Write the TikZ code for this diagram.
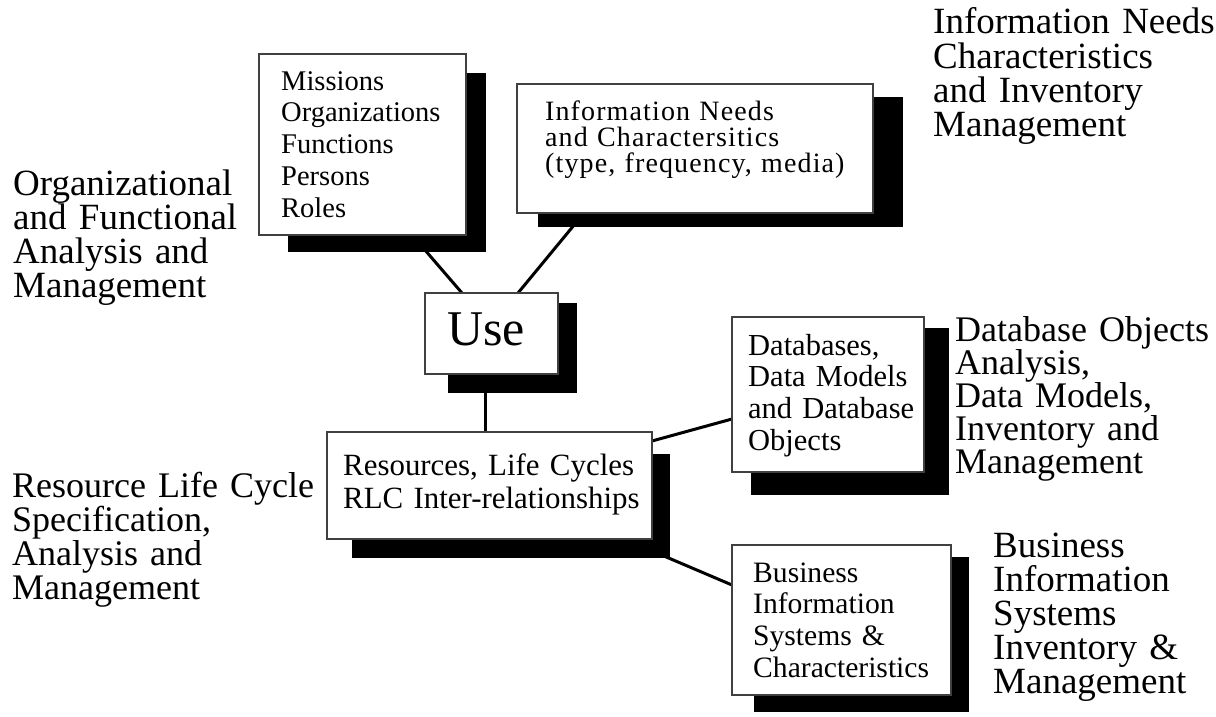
\documentclass[tikz,border=0pt]{standalone}
\usepackage{fontspec}
\setmainfont{Liberation Serif}
\pgfdeclarelayer{back}
\pgfsetlayers{back,main}

\begin{document}
\begin{tikzpicture}[x=1pt,y=-1pt,
    box/.style={draw=black!75,line width=1.2pt,fill=white,anchor=north west,inner sep=0pt,outer sep=0pt},
    txt/.style={anchor=base west,inner sep=0pt,text width=420pt,align=left},
    lbl/.style={txt,font=\fontsize{37}{34.2}\selectfont},
    link/.style={line width=3pt},
    shade/.style={fill=black}]
\useasboundingbox (0,0) rectangle (1216,717);

\node[box,minimum width=207pt,minimum height=181pt] (miss) at (259,54) {};
\node[txt,font=\fontsize{28.5}{31.8}\selectfont] (misst) at (281,90) {Missions\\Organizations\\Functions\\Persons\\Roles};

\node[box,minimum width=356pt,minimum height=129pt] (info) at (517,84) {};
\node[txt,font=\fontsize{28}{26.5}\selectfont\addfontfeatures{LetterSpace=4}] (infot) at (545,120) {Information Needs\\and Charactersitics\\(type, frequency, media)};

\node[box,minimum width=133pt,minimum height=81pt] (use) at (425,293) {};
\node[txt,font=\fontsize{50}{50}\selectfont] (uset) at (447,345) {Use};

\node[box,minimum width=325pt,minimum height=107pt] (res) at (327,432) {};
\node[txt,font=\fontsize{30.9}{33}\selectfont] (rest) at (343,475) {Resources, Life Cycles\\RLC Inter-relationships};

\node[box,minimum width=192pt,minimum height=155pt] (db) at (732,317) {};
\node[txt,font=\fontsize{30.5}{31.7}\selectfont] (dbt) at (748,355) {Databases,\\Data Models\\and Database\\Objects};

\node[box,minimum width=219pt,minimum height=150pt] (bus) at (732,545) {};
\node[txt,font=\fontsize{29.6}{31.7}\selectfont] (bust) at (753,582) {Business\\Information\\Systems \&\\Characteristics};

\node[lbl] (lorg) at (13,195) {Organizational\\and Functional\\Analysis and\\Management};
\node[lbl] (linfo) at (933,34) {Information Needs\\Characteristics\\and Inventory\\Management};
\node[lbl,font=\fontsize{36}{33}\selectfont] (ldb) at (955,341) {Database Objects\\Analysis,\\Data Models,\\Inventory and\\Management};
\node[lbl,font=\fontsize{36}{34.2}\selectfont] (lres) at (12,497) {Resource Life Cycle\\Specification,\\Analysis and\\Management};
\node[lbl] (lbus) at (993,557) {Business\\Information\\Systems\\Inventory \&\\Management};

\begin{pgfonlayer}{back}
\draw[link] ([xshift=153pt]miss.south west) -- ([xshift=37pt]use.north west);
\draw[link] ([xshift=67pt]info.south west) -- ([xshift=93pt]use.north west);
\draw[link] ([xshift=60pt]use.south west) -- ([xshift=158pt]res.north west);
\draw[link] ([yshift=-9pt]res.north east) -- ([yshift=-102pt]db.north west);
\draw[link] ([xshift=297pt]res.south west) -- ([yshift=-40pt]bus.north west);

\fill[shade] ([xshift=29pt,yshift=-19pt]miss.north west) rectangle ([xshift=20pt,yshift=-17pt]miss.south east);
\fill[shade] ([xshift=21pt,yshift=-13pt]info.north west) rectangle ([xshift=30pt,yshift=-14pt]info.south east);
\fill[shade] ([xshift=23pt,yshift=-10pt]use.north west) rectangle ([xshift=19pt,yshift=-19pt]use.south east);
\fill[shade] ([xshift=25pt,yshift=-22pt]res.north west) rectangle ([xshift=18pt,yshift=-19pt]res.south east);
\fill[shade] ([xshift=19pt,yshift=-11pt]db.north west) rectangle ([xshift=25pt,yshift=-23pt]db.south east);
\fill[shade] ([xshift=22pt,yshift=-12pt]bus.north west) rectangle ([xshift=18pt,yshift=-17pt]bus.south east);
\end{pgfonlayer}
\end{tikzpicture}
\end{document}
